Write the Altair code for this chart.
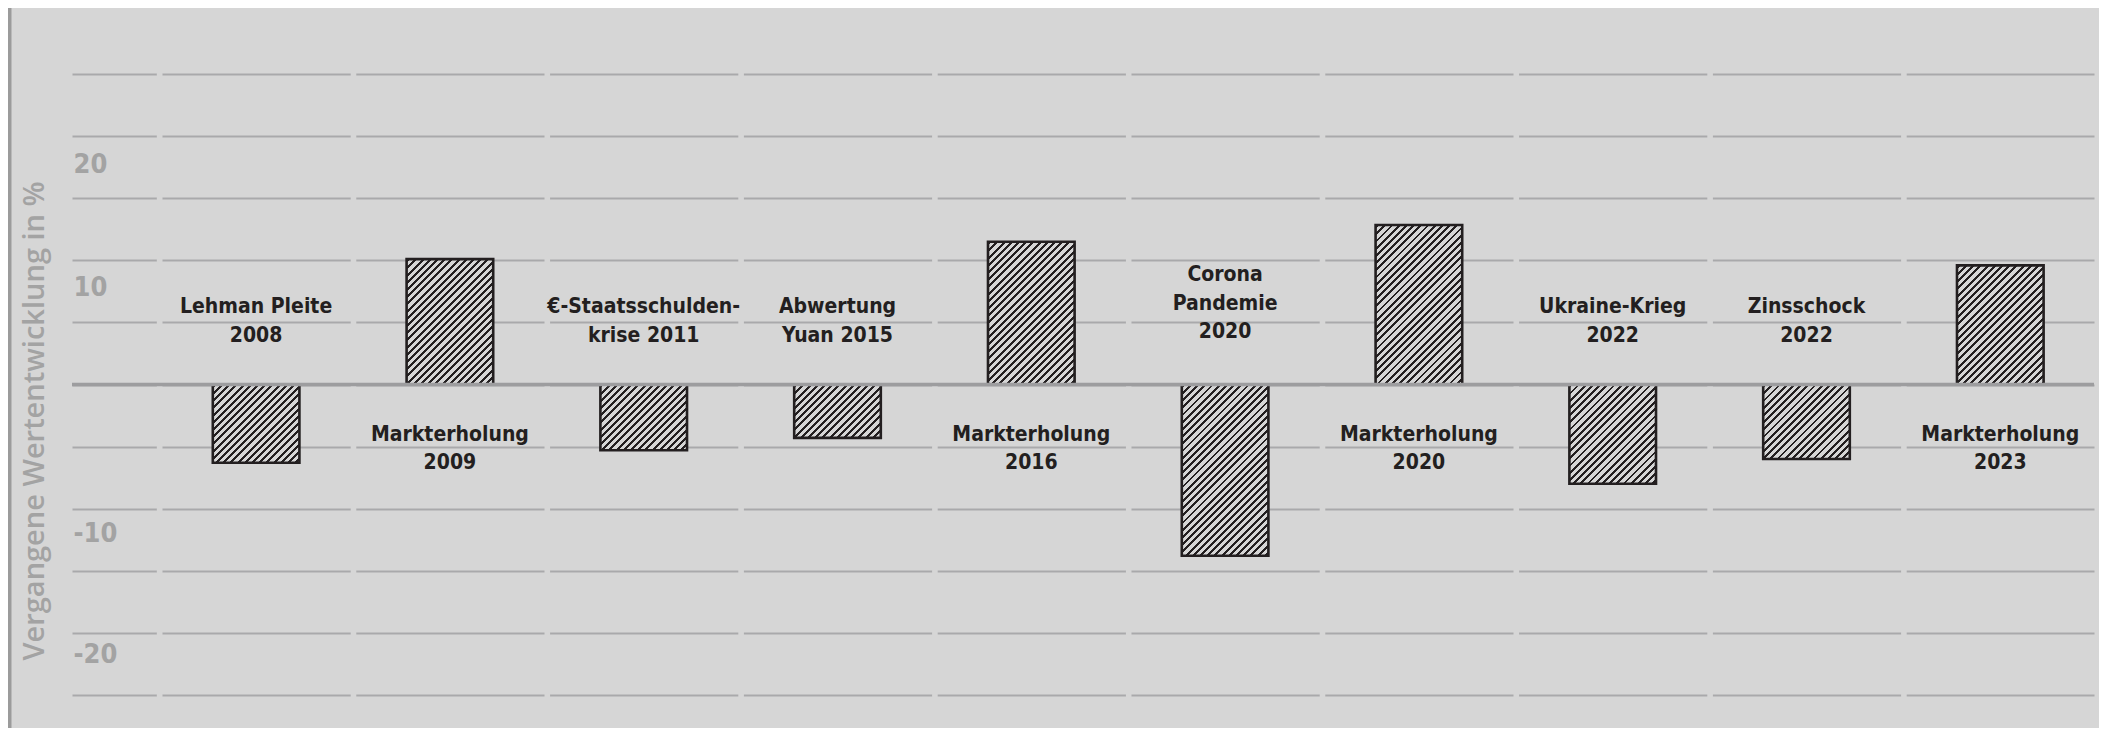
import altair as alt
import pandas as pd

# ---------------- data ----------------
labels = [
    "Lehman Pleite\n2008",
    "Markterholung\n2009",
    "€-Staatsschulden-\nkrise 2011",
    "Abwertung\nYuan 2015",
    "Markterholung\n2016",
    "Corona\nPandemie\n2020",
    "Markterholung\n2020",
    "Ukraine-Krieg\n2022",
    "Zinsschock\n2022",
    "Markterholung\n2023",
]
values = [-6.3, 10.1, -5.3, -4.3, 11.5, -13.8, 12.85, -8.0, -6.0, 9.6]
grid_ticks = [-25, -20, -15, -10, -5, 0, 5, 10, 15, 20, 25]
labeled_ticks = [-20, -10, 10, 20]
y_title = "Vergangene Wertentwicklung in %"

# ---------------- layout / style ----------------
W, H = 2022, 720
Y_MIN, Y_MAX = -27.68, 30.34
P_IN, P_OUT, ALIGN = 0.5531, 0.4933, 0.7364

BG = "#d6d6d6"
GRID = "#a9a9ab"
ZERO = "#9d9d9f"
INK = "#231f20"
AXIS_GREY = "#a3a3a3"
LABEL_FONT = "DejaVu Sans Condensed, DejaVu Sans, sans-serif"
LINE_H = 28.5

n = len(labels)
step = W / (n - P_IN + 2 * P_OUT)
bar_w = step * (1 - P_IN)
ppu = H / (Y_MAX - Y_MIN)

first_seg = 84.3
seg = step - 5.6
grid_dash = [first_seg, 5.7] + [round(seg, 2), 5.6] * n


def hatch(h_px, period=7.2, dark=2.9):
    w = bar_w
    h = max(h_px, 1.0)
    L = w + h
    den = w * w + h * h
    x2 = L * w / den
    y2 = L * h / den
    stops = []
    pos = 1.0
    while pos < L:
        a = round(pos / L, 5)
        b = round(min((pos + dark) / L, 1.0), 5)
        stops += [
            {"offset": a, "color": BG},
            {"offset": a, "color": INK},
            {"offset": b, "color": INK},
            {"offset": b, "color": BG},
        ]
        pos += period
    return {"gradient": "linear", "x1": 0, "y1": 0, "x2": x2, "y2": y2, "stops": stops}


df = pd.DataFrame({
    "idx": list(range(n)),
    "label": labels,
    "value": values,
    "nlines": [s.count("\n") + 1 for s in labels],
})

conds = [
    {"test": f"datum.idx === {i}", "value": hatch(abs(v) * ppu)}
    for i, v in enumerate(values)
]

xscale = alt.Scale(paddingInner=P_IN, paddingOuter=P_OUT, align=ALIGN, round=False)
yscale = alt.Scale(domain=[Y_MIN, Y_MAX], nice=False, zero=False)

label_test = " || ".join(f"datum.value == {t}" for t in labeled_ticks)
label_offsets = {20: 15, 10: 14, -10: 12, -20: 8.5}
yaxis = alt.Axis(
    values=grid_ticks,
    grid=True,
    gridColor=GRID,
    gridWidth=2,
    gridDash=grid_dash,
    domain=False,
    ticks=False,
    tickSize=0,
    labelExpr=f"({label_test}) ? toString(datum.value) : ''",
    labelAlign="left",
    labelBaseline="top",
    labelPadding=-1,
    labelOffset={
        "condition": [
            {"test": f"datum.value == {t}", "value": o} for t, o in label_offsets.items()
        ],
        "value": 15,
    },
    labelFont=LABEL_FONT,
    labelFontWeight="bold",
    labelFontSize=27,
    labelColor=AXIS_GREY,
    labelOverlap=False,
    labelFlush=False,
    title=y_title,
    titleFont="Open Sans",
    titleFontWeight=600,
    titleFontSize=29,
    titleColor=AXIS_GREY,
    titleAngle=270,
    titleAlign="center",
    titleBaseline="alphabetic",
    titleX=-28.5,
    titleY=412.5,
)

X = alt.X("label:N", sort=None, scale=xscale, axis=None)
Y = alt.Y("value:Q", scale=yscale, axis=yaxis)
Y0 = alt.Y(datum=0, scale=yscale, axis=yaxis)

base = alt.Chart(df)

bars = base.mark_bar(stroke=INK, strokeWidth=2.6).encode(
    x=X,
    y=Y,
    y2=alt.datum(0),
    fill={"condition": conds, "value": BG},
)

text_style = dict(
    font=LABEL_FONT,
    fontWeight="bold",
    fontSize=21,
    color=INK,
    lineBreak="\n",
    lineHeight=LINE_H,
    align="center",
)

text_layers = []
for k in sorted(set(df.loc[df["value"] < 0, "nlines"])):
    k = int(k)
    text_layers.append(
        base.transform_filter((alt.datum.value < 0) & (alt.datum.nlines == k))
        .mark_text(baseline="bottom", dy=-39 - (k - 1) * LINE_H - (k - 2) * 3.5, **text_style)
        .encode(x=X, y=Y0, text="label:N")
    )
text_layers.append(
    base.transform_filter(alt.datum.value > 0)
    .mark_text(baseline="top", dy=39, **text_style)
    .encode(x=X, y=Y0, text="label:N")
)

one = alt.Chart(pd.DataFrame({"z": [0]}))
zero_rule = one.mark_rule(color=ZERO, strokeWidth=3.5).encode(y=Y0)
left_border = one.mark_rule(color="#9b9b9b", strokeWidth=4).encode(
    x=alt.value(-62.5), y=alt.value(0), y2=alt.value(H)
)

chart = (
    alt.layer(bars, *text_layers, zero_rule, left_border)
    .properties(
        width=W,
        height=H,
        padding={"left": 64, "right": 5, "top": 0, "bottom": 0},
        autosize=alt.AutoSizeParams(type="none"),
        background=BG,
    )
    .configure_view(stroke=None)
)

chart.save("out.html", embed_options={"renderer": "svg", "actions": False})
